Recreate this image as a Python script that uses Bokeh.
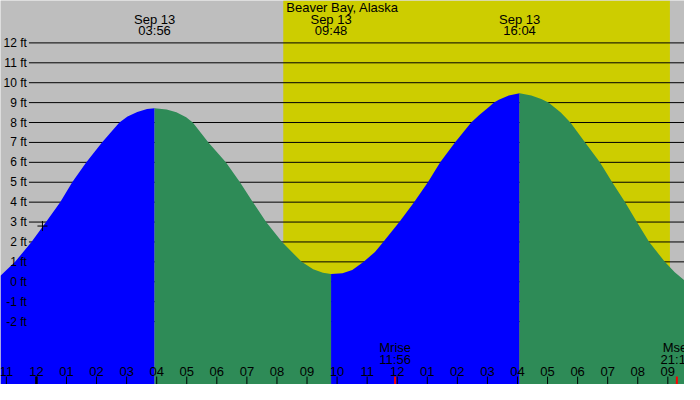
from bokeh.plotting import figure
from bokeh.models import Range1d
from bokeh.core.properties import value
from bokeh.embed import file_html
from bokeh.resources import INLINE

# Tide for Sep 13, hours from midnight (negative = Sep 12)
title = "Beaver Bay, Alaska"
tide_hours = [-1.195, -0.71, -0.165, 0.32, 0.79, 1.19, 1.66, 2.18, 2.76, 3.03, 3.355, 3.68, 3.93,
              4.33, 4.655, 4.98, 5.2, 5.72, 6.3, 6.77, 7.2, 7.64, 8.17, 8.82, 9.205, 9.53, 9.8,
              10.18, 10.505, 10.885, 11.26, 11.535, 12.07, 12.56, 13.02, 13.43, 13.92, 14.46,
              14.73, 15.05, 15.22, 15.38, 15.71, 16.07,
              16.46, 16.79, 17.03, 17.44, 17.76, 18.25, 18.74, 19.15, 19.58, 19.97, 20.38,
              20.9, 21.23, 21.56]
tide_ft = [0.3, 1.0, 2.0, 3.0, 4.0, 5.0, 6.0, 7.0, 8.0, 8.3, 8.53, 8.68, 8.72,
           8.66, 8.52, 8.27, 8.0, 7.0, 6.0, 5.0, 4.0, 3.0, 2.0, 1.0, 0.63, 0.45, 0.39,
           0.43, 0.59, 1.0, 1.5, 2.0, 3.0, 4.0, 5.0, 6.0, 7.0, 8.0,
           8.38, 8.78, 9.0, 9.15, 9.36, 9.47,
           9.36, 9.18, 9.0, 8.5, 8.0, 7.0, 6.0, 5.0, 4.0, 3.0, 2.0,
           1.0, 0.48, 0.06]

extreme_hours = [3.93, 9.8, 16.07]
extreme_dates = ["Sep 13", "Sep 13", "Sep 13"]
extreme_times = ["03:56", "09:48", "16:04"]

sunrise, sunset = 8.21, 21.07

moon_hours = [11.93, 21.3]
moon_names = ["Mrise", "Mset"]
moon_times = ["11:56", "21:18"]

now_hour, now_ft = 0.2, 2.8

hour_ticks = list(range(-1, 22))
hour_labels = ["11", "12", "01", "02", "03", "04", "05", "06", "07", "08", "09", "10",
               "11", "12", "01", "02", "03", "04", "05", "06", "07", "08", "09"]
ft_levels = list(range(-2, 13))

X0, X1 = -1.195, 21.555
Y0, Y1 = -5.16, 14.13
FONT = value("Liberation Sans")

p = figure(width=684, height=384, x_range=Range1d(X0, X1), y_range=Range1d(Y0, Y1),
           toolbar_location=None, output_backend="svg", min_border=0)
p.axis.visible = False
p.grid.visible = False
p.outline_line_color = None
p.background_fill_color = "#bebebe"
p.border_fill_color = "#bebebe"

# daylight
p.quad(left=[sunrise], right=[sunset], bottom=[Y0], top=[Y1],
       fill_color="#cdcd00", line_color=None)

# level lines
p.segment(x0=-0.25, x1=X1, y0=ft_levels, y1=ft_levels, line_color="black", line_width=1)

# tide fill: blue while rising, green while falling
bounds = [tide_hours[0]] + extreme_hours + [tide_hours[-1]]
colors = ["blue", "seagreen", "blue", "seagreen"]
for i, c in enumerate(colors):
    xs = [h for h in tide_hours if bounds[i] <= h <= bounds[i + 1]]
    ys = [f for h, f in zip(tide_hours, tide_ft) if bounds[i] <= h <= bounds[i + 1]]
    p.varea(x=xs, y1=Y0, y2=ys, fill_color=c)

p.scatter(x=[now_hour], y=[now_ft], marker="cross", size=10, line_color="black", line_width=1)

# left labels
p.text(x=-0.32, y=ft_levels, text=[f"{v} ft" for v in ft_levels], text_align="right",
       text_baseline="middle", text_font=FONT, text_font_size="12px", text_color="black")

# title and extremes
p.text(x=[(X0 + X1) / 2], y=[13.8], text=[title], text_align="center", text_baseline="middle",
       text_font=FONT, text_font_size="13px", text_color="black")
p.text(x=extreme_hours, y=13.2, text=extreme_dates, text_align="center", text_baseline="middle",
       text_font=FONT, text_font_size="13px", text_color="black")
p.text(x=extreme_hours, y=12.62, text=extreme_times, text_align="center", text_baseline="middle",
       text_font=FONT, text_font_size="13px", text_color="black")

# hour axis along the bottom
p.segment(x0=hour_ticks, x1=hour_ticks, y0=Y0, y1=Y0 + 0.4, line_color="black", line_width=1)
p.segment(x0=[0], x1=[0], y0=Y0, y1=Y0 + 0.4, line_color="black", line_width=2.5)
p.text(x=hour_ticks, y=-4.5, text=hour_labels, text_align="center", text_baseline="middle",
       text_font=FONT, text_font_size="13px", text_color="black")

# moon rise / set
p.segment(x0=moon_hours, x1=moon_hours, y0=Y0, y1=Y0 + 0.4, line_color="red", line_width=2)
p.text(x=moon_hours, y=-3.28, text=moon_names, text_align="center", text_baseline="middle",
       text_font=FONT, text_font_size="13px", text_color="black")
p.text(x=moon_hours, y=-3.9, text=moon_times, text_align="center", text_baseline="middle",
       text_font=FONT, text_font_size="13px", text_color="black")

open("out.html", "w").write(file_html(p, INLINE))
